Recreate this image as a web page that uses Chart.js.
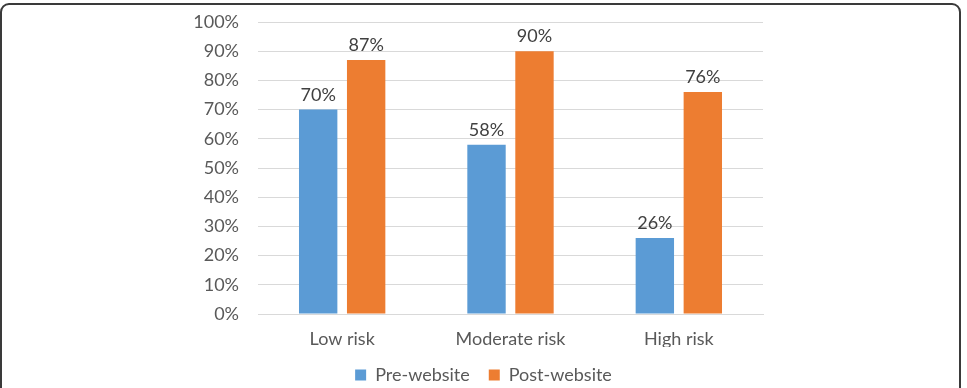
<!DOCTYPE html>
<html>
<head>
<meta charset="utf-8">
<script src="https://cdn.jsdelivr.net/npm/chart.js@4.4.0/dist/chart.umd.min.js"></script>
<style>
    html, body { margin: 0; padding: 0; background: #fff; }
    #wrap { position: relative; width: 967px; height: 388px; overflow: hidden; }
    #frame {
        position: absolute; left: 0; top: 3px; width: 957px; height: 420px;
        border: 2px solid #3a3a3a; border-radius: 9px; pointer-events: none;
    }
    canvas { position: absolute; left: 0; top: 0; }
</style>
</head>
<body>
<div id="wrap">
    <!-- canvas is a bit taller than the window; the bottom strip is clipped -->
    <canvas id="chart" width="967" height="394"></canvas>
    <div id="frame"></div>
</div>
<script>
const categories = ['Low risk', 'Moderate risk', 'High risk'];
const preWebsite = [70, 58, 26];
const postWebsite = [87, 90, 76];
const yTicks = [0, 10, 20, 30, 40, 50, 60, 70, 80, 90, 100];

const fontFamily = 'Lato, "Open Sans", sans-serif';

// draws the value above each bar
const valueLabels = {
    id: 'valueLabels',
    afterDatasetsDraw(chart) {
        const ctx = chart.ctx;
        ctx.save();
        ctx.font = '18px ' + fontFamily;
        ctx.fillStyle = '#404040';
        ctx.textAlign = 'center';
        ctx.textBaseline = 'alphabetic';
        chart.data.datasets.forEach((ds, i) => {
            chart.getDatasetMeta(i).data.forEach((bar, j) => {
                ctx.fillText(ds.data[j] + '%', bar.x, bar.y - 9);
            });
        });
        ctx.restore();
    }
};

new Chart(document.getElementById('chart').getContext('2d'), {
    type: 'bar',
    data: {
        labels: categories,
        datasets: [
            { label: 'Pre-website', data: preWebsite, backgroundColor: '#5b9bd5' },
            { label: 'Post-website', data: postWebsite, backgroundColor: '#ed7d31' }
        ]
    },
    options: {
        responsive: false,
        animation: false,
        categoryPercentage: 0.57,
        barPercentage: 0.8,
        layout: { padding: { left: 0, right: 0, top: 22, bottom: 0 } },
        plugins: {
            legend: {
                position: 'bottom',
                labels: {
                    boxWidth: 11,
                    boxHeight: 11,
                    padding: 19,
                    color: '#595959',
                    font: { family: fontFamily, size: 18 }
                }
            },
            tooltip: { enabled: false }
        },
        scales: {
            y: {
                min: 0,
                max: 100,
                afterFit: scale => {
                    scale.width = 258;
                    scale.paddingTop = 0;
                    scale.paddingBottom = 0;
                },
                afterBuildTicks: scale => { scale.ticks = yTicks.map(v => ({ value: v })); },
                ticks: {
                    color: '#595959',
                    padding: 19,
                    font: { family: fontFamily, size: 18 },
                    callback: v => v + '%'
                },
                grid: { color: '#d9d9d9', drawTicks: false },
                border: { display: false }
            },
            // empty right axis only reserves the blank space right of the plot
            yRight: {
                position: 'right',
                afterFit: scale => {
                    scale.width = 204;
                    scale.paddingTop = 0;
                    scale.paddingBottom = 0;
                },
                ticks: { display: false },
                grid: { display: false },
                border: { display: false }
            },
            x: {
                afterFit: scale => { scale.height = 33; },
                ticks: {
                    color: '#595959',
                    padding: 14,
                    font: { family: fontFamily, size: 18 }
                },
                grid: { display: false, drawTicks: false },
                border: { color: '#d9d9d9' }
            }
        }
    },
    plugins: [valueLabels]
});
</script>
</body>
</html>
